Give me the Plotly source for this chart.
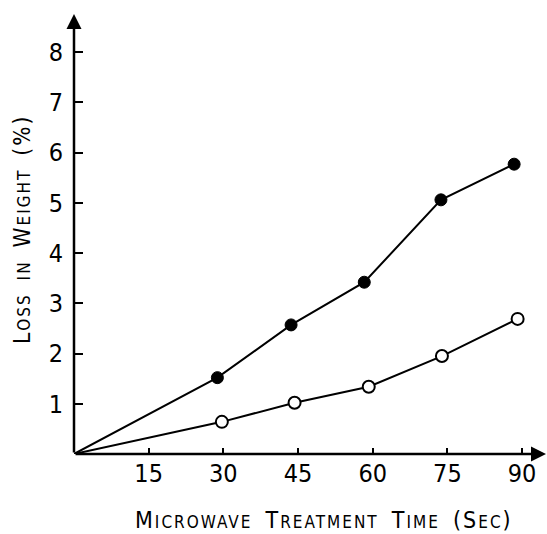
import plotly.graph_objects as go

# Data
time_filled = [0, 28.8, 43.6, 58.3, 73.7, 88.4]
loss_filled = [0, 1.52, 2.57, 3.42, 5.06, 5.77]
time_open = [0, 29.7, 44.3, 59.2, 73.9, 89.1]
loss_open = [0, 0.64, 1.02, 1.34, 1.95, 2.69]
x_ticks = [15, 30, 45, 60, 75, 90]
y_ticks = [1, 2, 3, 4, 5, 6, 7, 8]

FONT = "DejaVu Sans Condensed, Liberation Sans Narrow, sans-serif"
X_MAX = 94.8
Y_MAX = 8.76

fig = go.Figure()
fig.add_trace(go.Scatter(
    x=time_filled, y=loss_filled, mode="lines",
    line=dict(color="black", width=2), showlegend=False, hoverinfo="skip"))
fig.add_trace(go.Scatter(
    x=time_filled[1:], y=loss_filled[1:], mode="markers",
    marker=dict(symbol="circle", size=12, color="black", line=dict(color="black", width=1)),
    showlegend=False))
fig.add_trace(go.Scatter(
    x=time_open, y=loss_open, mode="lines",
    line=dict(color="black", width=2), showlegend=False, hoverinfo="skip"))
fig.add_trace(go.Scatter(
    x=time_open[1:], y=loss_open[1:], mode="markers",
    marker=dict(symbol="circle", size=12, color="white", line=dict(color="black", width=2)),
    showlegend=False))

# Axis arrows
fig.add_annotation(x=X_MAX, y=0, ax=0, ay=0, xref="x", yref="y", axref="x", ayref="y",
                   text="", showarrow=True, arrowhead=2, arrowsize=1.2, arrowwidth=2.5,
                   arrowcolor="black")
fig.add_annotation(x=0, y=Y_MAX, ax=0, ay=0, xref="x", yref="y", axref="x", ayref="y",
                   text="", showarrow=True, arrowhead=2, arrowsize=1.2, arrowwidth=2.5,
                   arrowcolor="black")


def small_caps(words, big, small, ls):
    st = f"letter-spacing:{ls}px"
    parts = []
    for w in words:
        out = ""
        for ch in w:
            if ch.isupper() or not ch.isalpha():
                out += f'<span style="font-size:{big}px;{st}">{ch}</span>'
            else:
                out += f'<span style="font-size:{small}px;{st}">{ch.upper()}</span>'
        parts.append(out)
    return "&#160;&#160;".join(parts)


xtitle = small_caps(["Microwave", "Treatment", "Time", "(Sec)"], 23, 17, 2)
ytitle = small_caps(["Loss", "in", "Weight", "(%)"], 22.5, 17, 2)

fig.update_layout(
    width=547, height=534,
    margin=dict(l=74, r=1, t=14, b=80),
    paper_bgcolor="white", plot_bgcolor="white",
    font=dict(family=FONT, color="black"),
    xaxis=dict(range=[0, X_MAX], tickvals=x_ticks, ticktext=[str(v) for v in x_ticks],
               ticks="inside", ticklen=6, tickwidth=2, tickcolor="black",
               showgrid=False, zeroline=False, showline=False, ticklabelstandoff=2,
               tickfont=dict(family=FONT, size=25, color="black")),
    yaxis=dict(range=[0, Y_MAX], tickvals=y_ticks, ticktext=[str(v) for v in y_ticks],
               ticks="inside", ticklen=9, tickwidth=2, tickcolor="black",
               showgrid=False, zeroline=False, showline=False, ticklabelstandoff=10,
               tickfont=dict(family=FONT, size=25, color="black")),
)

fig.add_annotation(x=(324 - 74) / 472, y=-(520 - 454) / 440, xref="paper", yref="paper",
                   text=xtitle, showarrow=False, xanchor="center", yanchor="middle",
                   font=dict(family=FONT, size=23, color="black"))
fig.add_annotation(x=-(74 - 22) / 472, y=(454 - 230) / 440, xref="paper", yref="paper",
                   text=ytitle, textangle=-90, showarrow=False,
                   xanchor="center", yanchor="middle",
                   font=dict(family=FONT, size=22.5, color="black"))

fig.write_html("out.html")
